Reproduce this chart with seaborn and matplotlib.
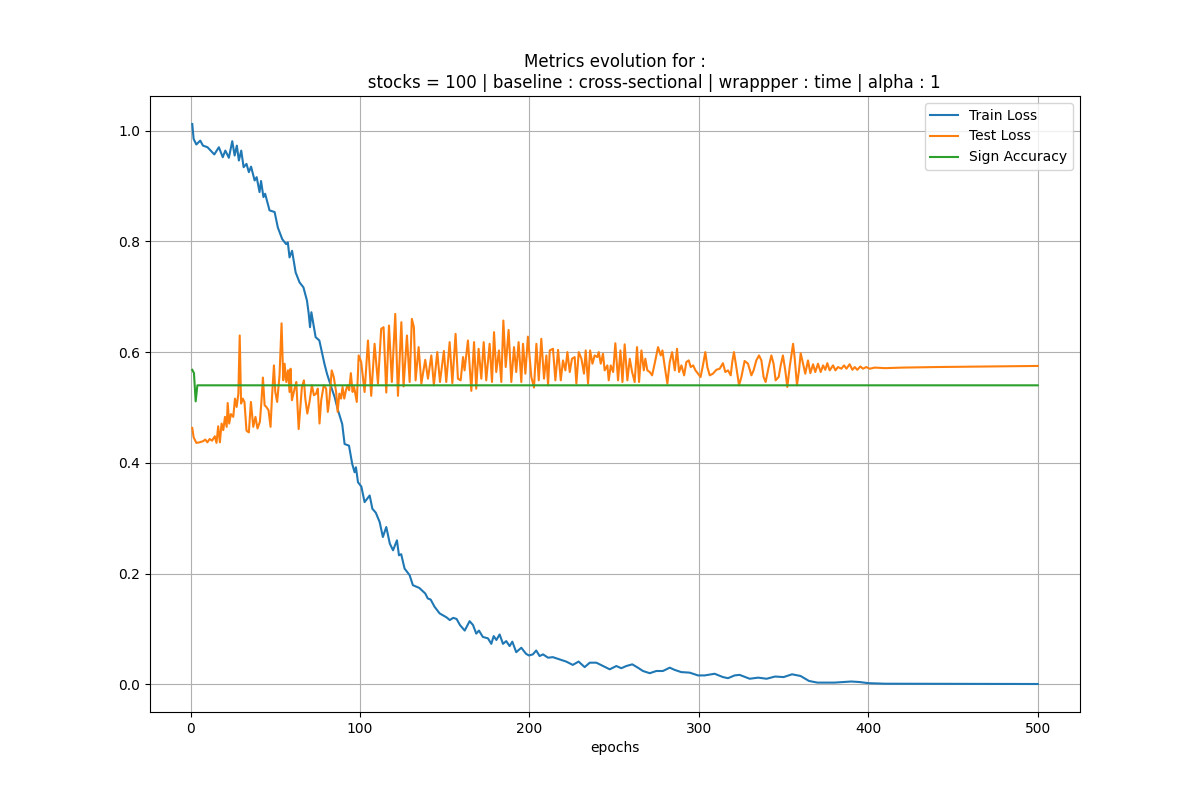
import numpy as np
import pandas as pd
import matplotlib; matplotlib.use("Agg")
import matplotlib.pyplot as plt
import seaborn as sns

# values
train_epochs = [1, 1.8, 3.4, 5.7, 7.3, 10, 14, 16.7, 19, 20.5, 22.6, 24.6, 26, 27.3, 28.5, 29.9,
                31.3, 33, 34.4, 35.7, 37.8, 39, 40.7, 41.6, 43, 44, 46.6, 49.6, 51.5, 54.1, 56.4,
                57.4, 58.4, 59.9, 62, 64.3, 66.6, 68.7, 69.7, 70.5, 71.3, 71.9, 73.8, 76, 77.7,
                79, 80.5, 83, 85, 87,
                89.5, 90.9, 93.5, 95.4, 96.8, 97.6, 98.8, 100.8, 102.7, 105.7, 107.3, 109.3,
                111.6, 113.5, 115.5, 117.6, 119.5, 121.8, 123, 124.3, 126.3, 129.3, 131.2, 135,
                138.5, 140, 141.7, 144, 147, 151, 153, 155, 157, 159, 161.8, 164.7, 166.7,
                168.6, 170.2, 172.5, 175.5, 177.5, 178.9, 180.5, 182.4, 184.4, 186.3, 188.3,
                189.9, 192.2, 195.2, 198, 199.7, 202, 204, 206, 208, 211, 213.8, 217.7, 221.7,
                225.6, 229, 232.6, 235.6, 239.5, 243.4, 247.4, 251.3, 254.2, 257.2, 260.7, 264,
                267, 271, 274.9, 278.8, 282.8, 285.7, 289.6, 294.6, 299.5, 303.4, 309.3, 314.2,
                317.2, 321.1, 324, 330, 335, 340, 345, 350, 355, 360, 365, 370, 380, 390, 395,
                400, 410, 450, 500]
train_loss = [1.012, 0.985, 0.975, 0.982, 0.973, 0.970, 0.957, 0.970, 0.952, 0.964, 0.951, 0.981,
              0.955, 0.973, 0.946, 0.964, 0.934, 0.940, 0.925, 0.935, 0.910, 0.916, 0.889, 0.909,
              0.880, 0.886, 0.856, 0.853, 0.825, 0.804, 0.795, 0.798, 0.771, 0.783, 0.744, 0.726,
              0.717, 0.693, 0.670, 0.645, 0.672, 0.661, 0.627, 0.621, 0.597, 0.579, 0.561, 0.537,
              0.519, 0.495,
              0.470, 0.434, 0.431, 0.398, 0.383, 0.392, 0.365, 0.357, 0.329, 0.341, 0.317, 0.310,
              0.293, 0.266, 0.284, 0.254, 0.242, 0.260, 0.233, 0.235, 0.209, 0.197, 0.179, 0.174,
              0.164, 0.155, 0.153, 0.140, 0.128, 0.121, 0.116, 0.120, 0.118, 0.107, 0.097, 0.114,
              0.107, 0.0915, 0.097, 0.0855, 0.083, 0.073, 0.087, 0.080, 0.090, 0.073, 0.078,
              0.069, 0.077, 0.058, 0.066, 0.055, 0.052, 0.054, 0.061, 0.051, 0.054, 0.048, 0.049,
              0.045, 0.041, 0.035, 0.041, 0.031, 0.039, 0.039, 0.033, 0.027, 0.033, 0.029, 0.033,
              0.036, 0.030, 0.024, 0.020, 0.024, 0.024, 0.030, 0.026, 0.022, 0.021, 0.016, 0.016,
              0.019, 0.013, 0.011, 0.016, 0.017, 0.010, 0.012, 0.010, 0.014, 0.013, 0.018, 0.015,
              0.006, 0.003, 0.003, 0.005, 0.004, 0.002, 0.001, 0.0007, 0.0005]

test_epochs = [1, 1.8, 3.4, 5.3, 7.3, 8.7, 9.9, 11.3, 12.7, 14.3, 15.3, 16.3, 17.3, 18.3, 19.3,
               20.3, 21.3, 21.9, 22.8, 23.8, 25.2, 26.2, 27.2, 28.2, 29, 29.8, 30.8, 31.8, 33,
               34.4, 35.6, 37, 38.3, 39.5, 40.9, 41.8, 42.7, 43.7, 44.7, 46, 47.2, 48, 49.2, 50,
               51.1, 52.5, 53.7, 54.7, 55.5, 56.5, 57.5, 58.4, 59, 59.8, 61.4, 62.4, 63.8, 65,
               65.7, 66.9, 67.7, 68.9, 70.2, 71.6, 72.8, 74.1, 75.1, 76.1, 77.1, 78.6, 80, 81,
               82, 83.3, 84.5, 85.9, 86.8, 87.8, 88.8, 89.7, 90.7, 91.7, 92.6, 93.6, 94.6, 95.6,
               96.5, 98.1,
               99.2, 100.7, 102.7, 104.7, 106.6, 108.6, 110.6, 112.5, 113.9, 115.5, 117.1, 118.8,
               120.8, 122.4, 124.4, 125.7, 127.7, 129.3, 130.6, 131.8, 132.8, 134.6, 136.2, 138.5,
               140.1, 142.1, 143.6, 145.6, 147.2, 149.5, 150.9, 152.9, 154.5, 156.4, 157.8, 159.4,
               160.8, 161.7, 163.7, 165.7, 167.3, 168.6, 170, 171.6, 173, 174.5, 176.5, 177.9,
               179.1, 180.4, 182, 183.4, 184.6, 186, 187.7, 189.3, 190.9, 192.2, 193.6, 195.2,
               196.2, 197.6, 199.1, 201.1, 202.7,
               204.1, 205.5, 207, 208.6, 210, 211, 212, 213.9, 215.3, 216.9, 218.5, 219.8, 221.2,
               222.4, 223.8, 225.1, 226.7, 227.7, 229.1, 230.7, 232.2, 233.2, 234.6, 235.8, 237.2,
               238.5, 240.1, 240.9, 242.1, 243.4, 244.4, 246, 246.8, 248, 249.4, 250.7, 252.3,
               253.7, 254.9, 256.2, 257.8, 259.2, 260.6, 262.1, 263.5, 264.7, 266.1, 267.5, 268.4,
               269.6, 271, 272.4, 273.9, 275.9, 277.5, 278.5, 279.9, 281.4, 282.8, 284.2, 285.8,
               287.1, 288.3, 289.7, 291.3, 292.6, 294, 295.2, 296.6, 298, 299.5,
               301, 302.4, 303.8, 305, 306.4, 308.3, 310.3, 312.3, 314.2, 315.6, 317.2, 318.8,
               319.7, 320.7, 322.1, 323.7, 325.1, 327, 329, 331, 332.3, 333.9, 335.5, 336.9,
               338.2, 339.4, 341.2, 342.8, 344.1, 345.3, 347.1, 348.3, 349.6, 351, 352.2, 353.6,
               355.6, 356.5, 357.9, 359.1, 360.1, 361.5, 362.8, 364.4, 365.8, 367.4, 368.7, 370.3,
               371.9, 373.3, 374.6, 375.8, 377.2, 379.2, 380.6, 382.1, 384.1, 385.7, 387.1, 389,
               390.6, 392, 393.5, 395.3, 396.9, 398.8, 400.8, 403.8, 410, 420, 440, 470, 500]
test_loss = [0.463, 0.446, 0.436, 0.437, 0.439, 0.442, 0.437, 0.443, 0.440, 0.448, 0.436, 0.466,
             0.437, 0.471, 0.459, 0.483, 0.465, 0.508, 0.471, 0.488, 0.483, 0.516, 0.501, 0.525,
             0.630, 0.507, 0.516, 0.510, 0.458, 0.455, 0.510, 0.465, 0.483, 0.462, 0.474, 0.510,
             0.554, 0.504, 0.501, 0.495, 0.465, 0.516, 0.576, 0.528, 0.510, 0.558, 0.652, 0.549,
             0.579, 0.546, 0.567, 0.528, 0.570, 0.513, 0.534, 0.546, 0.461, 0.510, 0.537, 0.549,
             0.516, 0.489, 0.510, 0.540, 0.522, 0.525, 0.534, 0.471, 0.513, 0.540, 0.534, 0.492,
             0.516, 0.567, 0.555, 0.528, 0.492, 0.525, 0.516, 0.537, 0.516, 0.531, 0.540, 0.531,
             0.562, 0.528, 0.537, 0.510,
             0.594, 0.582, 0.528, 0.621, 0.521, 0.615, 0.543, 0.642, 0.645, 0.527, 0.648, 0.546,
             0.669, 0.521, 0.654, 0.538, 0.630, 0.546, 0.660, 0.645, 0.549, 0.609, 0.543, 0.586,
             0.552, 0.594, 0.540, 0.600, 0.546, 0.602, 0.546, 0.618, 0.544, 0.633, 0.552, 0.549,
             0.591, 0.567, 0.621, 0.530, 0.618, 0.534, 0.606, 0.552, 0.618, 0.549, 0.615, 0.546,
             0.636, 0.564, 0.603, 0.546, 0.657, 0.573, 0.640, 0.546, 0.609, 0.564, 0.618, 0.546,
             0.615, 0.561, 0.628, 0.555, 0.536,
             0.615, 0.549, 0.624, 0.552, 0.594, 0.540, 0.603, 0.606, 0.549, 0.604, 0.549, 0.585,
             0.567, 0.600, 0.564, 0.588, 0.591, 0.543, 0.600, 0.588, 0.561, 0.603, 0.543, 0.603,
             0.579, 0.594, 0.591, 0.600, 0.579, 0.597, 0.567, 0.576, 0.549, 0.576, 0.564, 0.616,
             0.549, 0.603, 0.546, 0.614, 0.549, 0.588, 0.564, 0.546, 0.609, 0.546, 0.603, 0.567,
             0.588, 0.567, 0.564, 0.558, 0.579, 0.609, 0.594, 0.603, 0.573, 0.543, 0.582, 0.600,
             0.567, 0.606, 0.564, 0.576, 0.558, 0.582, 0.585, 0.573, 0.576, 0.567, 0.561,
             0.555, 0.576, 0.600, 0.573, 0.558, 0.561, 0.568, 0.570, 0.580, 0.564, 0.567, 0.558,
             0.582, 0.600, 0.573, 0.540, 0.555, 0.584, 0.579, 0.558, 0.567, 0.585, 0.594, 0.585,
             0.555, 0.546, 0.573, 0.594, 0.579, 0.549, 0.555, 0.576, 0.594, 0.567, 0.537, 0.573,
             0.615, 0.591, 0.540, 0.567, 0.598, 0.579, 0.561, 0.585, 0.562, 0.578, 0.564, 0.579,
             0.564, 0.576, 0.568, 0.580, 0.567, 0.576, 0.567, 0.573, 0.570, 0.576, 0.570, 0.578,
             0.568, 0.573, 0.568, 0.574, 0.570, 0.573, 0.570, 0.572, 0.571, 0.572, 0.573, 0.574,
             0.575]

acc_epochs = [1, 2, 3, 4, 500]
sign_acc = [0.568, 0.562, 0.511, 0.540, 0.540]

title = ("Metrics evolution for :\n" + " " * 15 +
         "stocks = 100 | baseline : cross-sectional | wrappper : time | alpha : 1")

fig, ax = plt.subplots(figsize=(12, 8), dpi=100)
sns.lineplot(x=train_epochs, y=train_loss, ax=ax, color="C0", label="Train Loss", linewidth=1.5)
sns.lineplot(x=test_epochs, y=test_loss, ax=ax, color="C1", label="Test Loss", linewidth=1.5)
sns.lineplot(x=acc_epochs, y=sign_acc, ax=ax, color="C2", label="Sign Accuracy", linewidth=1.5)

ax.set_title(title)
ax.set_xlabel("epochs")
ax.grid(True)
ax.legend(loc="upper right")
plt.savefig("out.png", dpi=100)
